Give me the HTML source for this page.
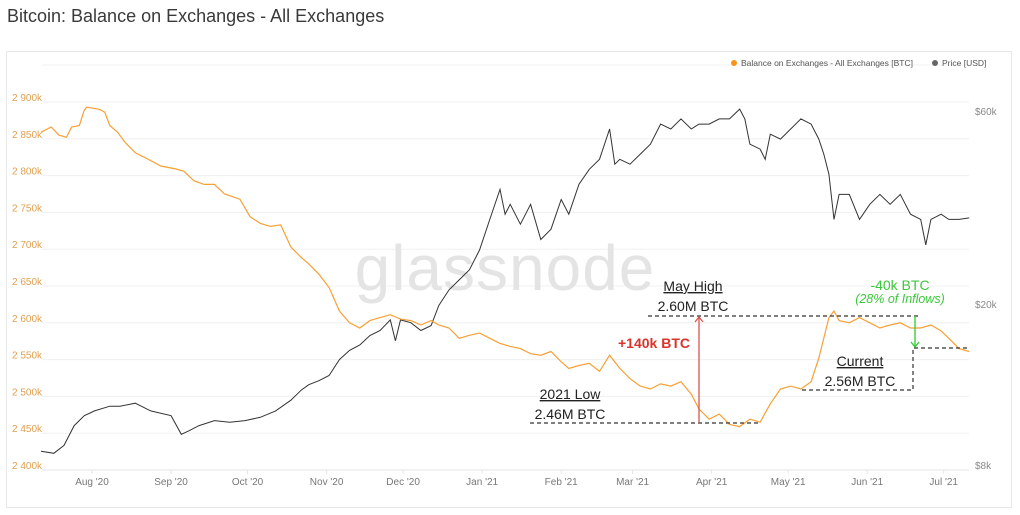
<!DOCTYPE html>
<html><head><meta charset="utf-8">
<style>
body{margin:0;background:#fff;width:1020px;height:515px;overflow:hidden;font-family:"Liberation Sans",sans-serif}
#title{position:absolute;left:7px;top:6px;font-size:18px;color:#3a3a3a}
#card{position:absolute;left:6px;top:51px;width:1006px;height:457px;border:1px solid #e8e8e8;box-sizing:border-box}
svg{position:absolute;left:0;top:0}
</style></head><body>
<div id="title">Bitcoin: Balance on Exchanges - All Exchanges</div>
<div id="card"></div>
<svg id="chart" width="1020" height="515"></svg>
<script>
// data: day offsets from 2020-08-01
const balDays=[-20,-16,-13,-10,-8,-5,-3,-2,3,5,7,10,13,17,21,27,33,36,40,44,48,52,58,62,66,70,74,78,82,85,89,93,97,101,105,109,113,117,121,125,129,133,136,140,144,148,152,156,160,164,168,172,176,180,184,187,191,195,199,203,207,211,215,219,223,227,231,235,238,242,246,250,254,258,262,266,270,274,278,282,285,289,291,293,297,301,305,309,313,317,321,325,329,333,336,340,344];
const balValues=[2859,2866,2855,2852,2866,2868,2889,2893,2890,2886,2868,2859,2845,2831,2824,2813,2809,2806,2793,2788,2788,2775,2768,2744,2735,2731,2733,2703,2689,2680,2666,2648,2616,2600,2593,2603,2607,2611,2605,2603,2597,2603,2597,2593,2579,2583,2586,2579,2572,2568,2565,2558,2556,2561,2547,2538,2542,2545,2534,2556,2538,2524,2514,2510,2517,2514,2520,2503,2483,2469,2476,2462,2459,2469,2465,2490,2510,2514,2510,2520,2552,2607,2616,2603,2600,2607,2600,2593,2597,2600,2593,2593,2597,2589,2579,2565,2561];
const priceDays=[-20,-15,-11,-7,-3,1,7,11,17,23,31,35,38,42,48,54,60,66,72,78,82,85,89,93,97,101,105,109,113,117,119,121,125,129,133,136,140,144,148,152,156,160,162,164,168,172,176,180,184,187,191,195,199,203,205,207,211,215,219,223,227,231,235,238,242,246,250,254,256,258,262,264,266,270,274,278,282,285,287,289,291,293,297,301,305,309,313,317,321,325,327,329,333,336,340,344];
const priceValues=[8.9,8.8,9.2,10.3,10.9,11.2,11.5,11.5,11.7,11.2,10.9,9.8,10.0,10.3,10.6,10.5,10.6,10.8,11.2,11.9,12.6,13.0,13.3,13.7,15.0,15.8,16.3,17.2,17.7,18.8,16.7,18.8,18.5,17.7,18.2,20.4,22.3,23.6,25.0,28.0,33.3,39.5,34.3,36.3,32.4,36.3,29.7,31.5,37.3,34.3,40.7,44.3,46.9,55.7,45.6,46.9,45.6,48.3,51.1,57.3,55.7,59.0,55.7,57.3,57.3,59.0,59.0,62.4,59.0,51.1,49.7,46.9,54.1,52.6,55.7,59.0,57.3,52.6,48.3,43.1,33.3,38.4,38.4,33.3,36.3,38.4,36.3,38.4,34.3,33.3,28.8,33.3,34.3,33.3,33.3,33.6];
const leftTicks=[2400,2450,2500,2550,2600,2650,2700,2750,2800,2850,2900];
const leftTickLabels=["2 400k","2 450k","2 500k","2 550k","2 600k","2 650k","2 700k","2 750k","2 800k","2 850k","2 900k"];
const rightTicks=[8,20,60];
const rightTickLabels=["$8k","$20k","$60k"];
const monthDays=[0,31,61,92,122,153,184,212,243,273,304,334];
const monthLabels=["Aug '20","Sep '20","Oct '20","Nov '20","Dec '20","Jan '21","Feb '21","Mar '21","Apr '21","May '21","Jun '21","Jul '21"];

const X=d=>92+d*2.55;
const YL=v=>470-(v-2400)*0.736;
const YR=p=>470-175.7*Math.log(p/8);
const svg=document.getElementById('chart');
const NS='http://www.w3.org/2000/svg';
function mk(tag,attrs,txt){const e=document.createElementNS(NS,tag);for(const k in attrs)e.setAttribute(k,attrs[k]);if(txt!=null)e.textContent=txt;svg.appendChild(e);return e;}

let g=mk('line',{x1:42,x2:969,y1:65,y2:65,stroke:'#f0f0f0'});


leftTicks.forEach((v,i)=>{
  const l=mk('line',{x1:42,x2:969,y1:YL(v),y2:YL(v),stroke:i==0?'#e4e4e4':'#f0f0f0'});
  
  
  const t=mk('text',{x:12,y:YL(v)-1,'font-size':10,fill:'#e0a050'},leftTickLabels[i]);
  
  
});
rightTicks.forEach((p,i)=>{
  const t=mk('text',{x:975,y:YR(p)-1,'font-size':10,fill:'#888'},rightTickLabels[i]);
  
  
});
monthDays.forEach((d,i)=>{
  const l=mk('line',{x1:X(d),x2:X(d),y1:470,y2:474,stroke:'#e4e4e4'});
  
  
  const t=mk('text',{x:X(d),y:485,'font-size':10,fill:'#777','text-anchor':'middle'},monthLabels[i]);
  
  
});
let wm=mk('text',{x:505,y:290,'font-size':64,fill:'#e4e4e4','text-anchor':'middle','letter-spacing':'1'},'glassnode');


let pd='';const pn=Math.min(priceDays.length,priceValues.length);
for(let i=0;i<pn;i++)pd+=(i?'L':'M')+X(priceDays[i]).toFixed(1)+' '+YR(priceValues[i]).toFixed(1);
let pl=mk('path',{d:pd,fill:'none',stroke:'#333',"stroke-width":1});


let bd='';const bn=Math.min(balDays.length,balValues.length);
for(let i=0;i<bn;i++)bd+=(i?'L':'M')+X(balDays[i]).toFixed(1)+' '+YL(balValues[i]).toFixed(1);
let bl=mk('path',{d:bd,fill:'none',stroke:'#f7a035',"stroke-width":1.2});


let c1=mk('circle',{cx:734,cy:63,r:3,fill:'#f7931a'});


let t1=mk('text',{x:741,y:66,'font-size':8.5,fill:'#555'},'Balance on Exchanges - All Exchanges [BTC]');


let c2=mk('circle',{cx:935,cy:63,r:3,fill:'#666'});


let t2=mk('text',{x:942,y:66,'font-size':8.5,fill:'#555'},'Price [USD]');


</script>
<svg width="1020" height="515" style="position:absolute;left:0;top:0" font-family="Liberation Sans, sans-serif">
<g stroke="#333" stroke-width="1.2" stroke-dasharray="4 3" fill="none">
<line x1="648" y1="316" x2="918" y2="316"/>
<line x1="530" y1="423" x2="760" y2="423"/>
<polyline points="802,390 913,390 913,348 970,348"/>
</g>
<g stroke="#d9534f" stroke-width="1.3" fill="none">
<line x1="699" y1="423" x2="699" y2="317"/>
<polyline points="695,322 699,317 703,322"/>
</g>
<g stroke="#2ecc2e" stroke-width="1.3" fill="none">
<line x1="915" y1="316" x2="915" y2="347"/>
<polyline points="911,342 915,347 919,342"/>
</g>
<g font-size="14" fill="#222" text-anchor="middle">
<text x="693" y="291" text-decoration="underline">May High</text>
<text x="693" y="311">2.60M BTC</text>
<text x="570" y="399" text-decoration="underline">2021 Low</text>
<text x="570" y="419">2.46M BTC</text>
<text x="860" y="366" text-decoration="underline">Current</text>
<text x="860" y="386">2.56M BTC</text>
<text x="654" y="348" fill="#d9342b" font-weight="bold">+140k BTC</text>
<text x="900" y="290" fill="#3cc83c">-40k BTC</text>
<text x="900" y="303" fill="#3cc83c" font-size="12.5" font-style="italic">(28% of Inflows)</text>
</g>
</svg>
</body></html>
